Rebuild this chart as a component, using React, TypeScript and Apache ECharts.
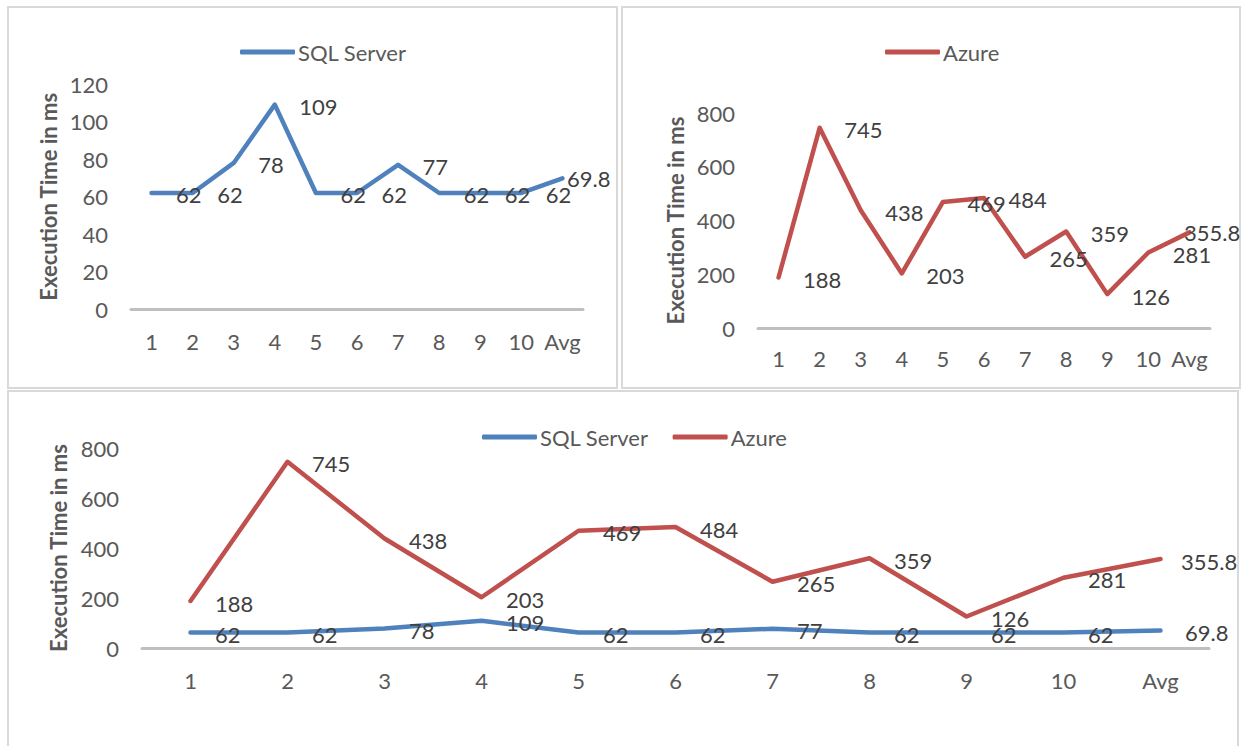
import React, { useEffect, useRef } from "react";
import * as echarts from "echarts";

const categories = ["1", "2", "3", "4", "5", "6", "7", "8", "9", "10", "Avg"];
const sqlServer = [62, 62, 78, 109, 62, 62, 77, 62, 62, 62, 69.8];
const azure = [188, 745, 438, 203, 469, 484, 265, 359, 126, 281, 355.8];
const sqlTicks = { min: 0, max: 120, interval: 20 };
const azureTicks = { min: 0, max: 800, interval: 200 };

const FONT = "Lato, 'Open Sans', sans-serif";
const BLUE = "#4f81bd";
const RED = "#c0504d";
const TICK = "#595959";
const LABEL = "#404040";

function lineSeries(
  name: string,
  values: number[],
  color: string,
  axisIndex: number,
  lastOffset: [number, number]
) {
  return {
    type: "line",
    name,
    xAxisIndex: axisIndex,
    yAxisIndex: axisIndex,
    data: values.map((v, i) =>
      i === values.length - 1 ? { value: v, label: { offset: lastOffset } } : v
    ),
    symbol: "circle",
    symbolSize: 1,
    showSymbol: true,
    lineStyle: { color, width: 4.5, cap: "round", join: "round" },
    itemStyle: { color },
    label: {
      show: true,
      position: "right",
      distance: 24,
      offset: [0, 2],
      color: LABEL,
      fontSize: 22,
      fontFamily: FONT,
    },
    emphasis: { disabled: true },
  };
}

function xAxis(gridIndex: number, margin: number) {
  return {
    type: "category",
    gridIndex,
    data: categories,
    boundaryGap: true,
    axisLine: { show: true, lineStyle: { color: "#bfbfbf", width: 3 } },
    axisTick: { show: false },
    axisLabel: { color: TICK, fontSize: 22, fontFamily: FONT, margin, interval: 0 },
    splitLine: { show: false },
  };
}

function yAxis(gridIndex: number, ticks: { min: number; max: number; interval: number }) {
  return {
    type: "value",
    gridIndex,
    min: ticks.min,
    max: ticks.max,
    interval: ticks.interval,
    axisLine: { show: false },
    axisTick: { show: false },
    splitLine: { show: false },
    axisLabel: { color: TICK, fontSize: 22, fontFamily: FONT, margin: 23 },
    name: "Execution Time in ms",
    nameLocation: "middle",
    nameGap: 72,
    nameTextStyle: { color: TICK, fontSize: 22, fontWeight: "bold", fontFamily: FONT },
  };
}

function legend(left: number, top: number, data: string[]) {
  return {
    left,
    top,
    data,
    icon: "roundRect",
    itemWidth: 55,
    itemHeight: 5,
    itemGap: 24,
    selectedMode: false,
    textStyle: { color: TICK, fontSize: 22, fontFamily: FONT, padding: [0, 0, 0, -2] },
  };
}

export default function App() {
  const ref = useRef<HTMLDivElement>(null);
  useEffect(() => {
    if (!ref.current) return;
    const chart = echarts.init(ref.current, undefined, { renderer: "svg" });
    chart.setOption({
      animation: false,
      backgroundColor: "#ffffff",
      grid: [
        { left: 131, top: 84, width: 452, height: 225.5 },
        { left: 758, top: 113, width: 452, height: 215 },
        { left: 142, top: 448, width: 1067, height: 200 },
      ],
      xAxis: [xAxis(0, 21), xAxis(1, 19), xAxis(2, 21)],
      yAxis: [yAxis(0, sqlTicks), yAxis(1, azureTicks), yAxis(2, azureTicks)],
      legend: [
        legend(235, 36, ["SQL Server"]),
        legend(880, 36, ["Azure"]),
        legend(477, 421, ["SQL Server", "Azure"]),
      ],
      series: [
        lineSeries("SQL Server", sqlServer, BLUE, 0, [-20, 0]),
        lineSeries("Azure", azure, RED, 1, [-30, 0]),
        lineSeries("SQL Server", sqlServer, BLUE, 2, [0, 2]),
        lineSeries("Azure", azure, RED, 2, [-4, 2]),
      ],
      graphic: [
        { type: "rect", shape: { x: 8, y: 7, width: 609, height: 381 }, style: { fill: "none", stroke: "#d9d9d9", lineWidth: 2 }, silent: true },
        { type: "rect", shape: { x: 622, y: 7, width: 618, height: 381 }, style: { fill: "none", stroke: "#d9d9d9", lineWidth: 2 }, silent: true },
        { type: "rect", shape: { x: 8, y: 391, width: 1230, height: 400 }, style: { fill: "none", stroke: "#d9d9d9", lineWidth: 2 }, silent: true },
      ],
    });
    return () => chart.dispose();
  }, []);
  return (
    <div
      ref={ref}
      style={{ position: "absolute", left: 0, top: 0, width: 1244, height: 746 }}
    />
  );
}
